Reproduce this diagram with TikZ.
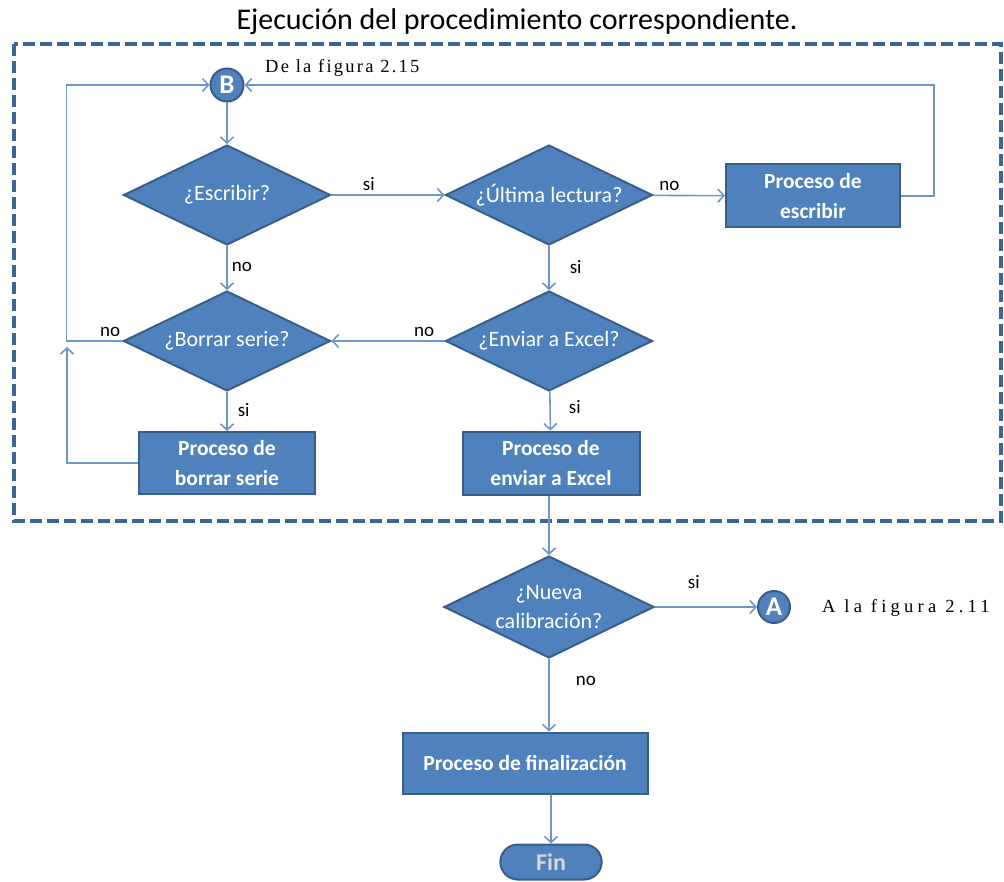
\documentclass[tikz,border=0pt]{standalone}
\usepackage{fontspec}
\setmainfont{Carlito}
\newfontfamily\refrm[LetterSpace=12]{Liberation Serif}
\newfontfamily\refwide[LetterSpace=23]{Liberation Serif}
\usetikzlibrary{arrows.meta,shapes.geometric,shapes.misc}
\definecolor{boxblue}{HTML}{4F81BD}
\definecolor{boxedge}{HTML}{385D8A}
\definecolor{linkblue}{HTML}{7096C8}
\definecolor{frameblue}{HTML}{3C6496}
\tikzset{dec/.style={diamond,aspect=2,fill=boxblue,draw=boxedge,line width=2pt,text=white,inner sep=0pt,
  minimum width=207pt,minimum height=100pt,align=center,font=\fontsize{22}{29}\selectfont}}
\tikzset{proc/.style={rectangle,fill=boxblue,draw=boxedge,line width=2pt,text=white,inner sep=0pt,
  align=center,font=\bfseries\fontsize{21.5}{30}\selectfont}}
\tikzset{conn/.style={circle,fill=boxblue,draw=boxedge,line width=2pt,text=white,inner sep=0pt,
  minimum size=33pt,font=\bfseries\fontsize{27}{27}\selectfont}}
\tikzset{link/.style={draw=linkblue,line width=1.6pt,-{Straight Barb[length=6pt,width=13pt]}}}
\tikzset{lab/.style={font=\fontsize{19}{19}\selectfont,text=black,inner sep=0pt}}

\begin{document}
\begin{tikzpicture}[x=1pt,y=-1pt]
\useasboundingbox (0,0) rectangle (1004,882);
\node (title) at (517,22) {\fontsize{30}{30}\selectfont Ejecución del procedimiento correspondiente.};
\draw[frameblue,line width=4pt,dash pattern=on 12pt off 5pt] (14,44) rectangle (1001,521);
% upper part
\node (B) at (227,85) [conn] {B};
\node (from) at (265,68) [anchor=west,inner sep=0pt] {\refrm\fontsize{18.5}{18.5}\selectfont De la figura 2.15};
\node (escribir) at (227,195) [dec] {¿Escribir?};
\node (ultima) at (549,195) [dec] {¿Última lectura?};
\node (procesc) at (813,196) [proc,minimum width=174pt,minimum height=63pt] {Proceso de\\escribir};
\node (borrar) at (227,341) [dec] {¿Borrar serie?};
\node (enviar) at (549,341) [dec] {¿Enviar a Excel?};
\node (procborr) at (227,463) [proc,minimum width=176pt,minimum height=62pt] {Proceso de\\borrar serie};
\node (procenv) at (551,463) [proc,minimum width=177pt,minimum height=63pt] {Proceso de\\enviar a Excel};
\coordinate (loop) at (67,347);
% lower part
\node (nueva) at (549,607) [dec,minimum width=210pt,minimum height=102pt] {¿Nueva\\calibración?};
\node (A) at (774,607) [conn,minimum size=32pt] {A};
\node (to) at (822,608) [anchor=west,inner sep=0pt] {\refwide\fontsize{18.5}{18.5}\selectfont A la figura 2.11};
\node (final) at (525,763) [proc,minimum width=245pt,minimum height=61pt] {Proceso de finalización};
\node (fin) at (551,862) [rounded rectangle,fill=boxblue,draw=boxedge,line width=2pt,text=white!85!black,
  minimum width=108pt,minimum height=35pt,font=\bfseries\fontsize{24}{24}\selectfont] {Fin};
% connectors
\draw[link] (B) -- (escribir);
\draw[link] (escribir) -- node[lab,pos=0.33,above=4pt]{si} (ultima);
\draw[link] (ultima) -- node[lab,pos=0.23,above=4pt]{no} (procesc);
\draw[link] (procesc.east) -- ++(33,0) |- (B);
\draw[link] (borrar.west) -- ++(-56,0) node[lab,pos=0.22,above=4pt]{no} |- (B);
\draw[link] (procborr.west) -| (loop);
\draw[link] (escribir) -- node[lab,pos=0.47,right=4pt]{no} (borrar);
\draw[link] (ultima) -- node[lab,pos=0.47,right=20pt]{si} (enviar);
\draw[link] (enviar) -- node[lab,pos=0.18,above=4pt]{no} (borrar);
\draw[link] (borrar) -- node[lab,pos=0.45,right=10pt]{si} (procborr);
\draw[link] (enviar) -- node[lab,pos=0.4,right=18pt]{si} (procenv);
\draw[link] (procenv.south -| nueva) -- (nueva);
\draw[link] (nueva) -- node[lab,pos=0.38,above=18pt]{si} (A);
\draw[link] (nueva) -- node[lab,pos=0.3,right=26pt]{no} (final.north -| nueva);
\draw[link] (final.south -| fin) -- (fin);
\end{tikzpicture}
\end{document}
